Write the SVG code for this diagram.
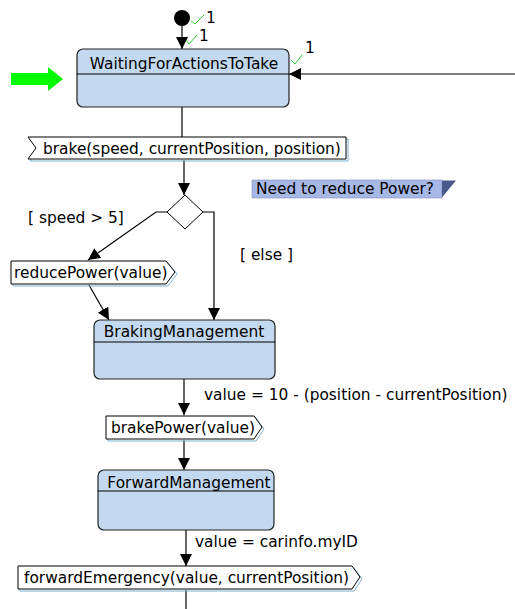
<svg xmlns="http://www.w3.org/2000/svg" width="515" height="609" viewBox="0 0 515 609">
<style>
text{font-family:"DejaVu Sans",sans-serif;font-size:15.4px;fill:#000}
.st{fill:#c3d9ef;stroke:#222;stroke-width:1.2}
.sig{fill:#fff;stroke:#000;stroke-width:1}
.sh{fill:none;stroke:#7fb0d0;stroke-width:1}
.ln{fill:none;stroke:#000;stroke-width:1.2}
.ck{fill:none;stroke:#3c3;stroke-width:1}
</style>
<defs>
<marker id="ah" viewBox="0 0 12 12" refX="12" refY="6" markerWidth="12" markerHeight="12" markerUnits="userSpaceOnUse" orient="auto">
<path d="M0,0 L12,6 L0,12 z" fill="#000"/>
</marker>
</defs>
<g id="connectors">
<line class="ln" x1="182" y1="26" x2="182" y2="49" marker-end="url(#ah)"/>
<line class="ln" x1="515" y1="74" x2="289" y2="74" marker-end="url(#ah)"/>
<line class="ln" x1="182" y1="107" x2="182" y2="137"/>
<line class="ln" x1="184" y1="160" x2="184" y2="195" marker-end="url(#ah)"/>
<polyline class="ln" points="167,212 156,212 88,260" marker-end="url(#ah)"/>
<polyline class="ln" points="203,212 214,212 214,320" marker-end="url(#ah)"/>
<line class="ln" x1="89" y1="285" x2="109" y2="320" marker-end="url(#ah)"/>
<line class="ln" x1="184" y1="379" x2="184" y2="415" marker-end="url(#ah)"/>
<line class="ln" x1="184" y1="440" x2="184" y2="470" marker-end="url(#ah)"/>
<line class="ln" x1="186" y1="530" x2="186" y2="566" marker-end="url(#ah)"/>
<line class="ln" x1="186" y1="590" x2="186" y2="609"/>
<text x="28" y="223">[ speed &gt; 5]</text>
<text x="240" y="260">[ else ]</text>
<text x="204" y="400">value = 10 - (position - currentPosition)</text>
<text x="195" y="547">value = carinfo.myID</text>
</g>
<g id="initial">
<circle cx="182" cy="18" r="8" fill="#000"/>
<polyline class="ck" points="191,21 195,24 204,15"/>
<text x="206" y="23">1</text>
<polyline class="ck" points="186,40 189,44 197,35"/>
<text x="199" y="41">1</text>
</g>
<g id="startArrow">
<polygon points="11,73 48,73 48,67 63,79 48,91 48,85 11,85" fill="#00ff00"/>
</g>
<g id="WaitingForActionsToTake">
<rect class="st" x="77" y="49" width="212" height="58" rx="6"/>
<line class="ln" x1="77" y1="74" x2="289" y2="74"/>
<text x="184" y="69" text-anchor="middle">WaitingForActionsToTake</text>
<polyline class="ck" points="291,60 295,64 302,55"/>
<text x="305" y="53">1</text>
</g>
<g id="brake">
<polygon class="sh" points="30,139 348,139 348,161 30,161 38,150"/>
<polygon class="sig" points="28,137 346,137 346,159 28,159 36,148"/>
<text x="43" y="154">brake(speed, currentPosition, position)</text>
</g>
<g id="decision">
<polygon points="185,195 203,212 185,229 167,212" fill="#fff" stroke="#000" stroke-width="1"/>
</g>
<g id="note">
<polygon points="252,180 442,180 442,198 252,198" fill="#a8b8e6" stroke="#8090c0" stroke-width="0.6"/>
<polygon points="442,180.5 456,180.5 442,197.5" fill="#4a5a8a"/>
<text x="256" y="194">Need to reduce Power?</text>
</g>
<g id="reducePower">
<polygon class="sh" points="13,263 168,263 177,274 168,286 13,286"/>
<polygon class="sig" points="11,261 166,261 175,272 166,284 11,284"/>
<text x="14" y="278">reducePower(value)</text>
</g>
<g id="BrakingManagement">
<rect class="st" x="94" y="320" width="181" height="59" rx="6"/>
<line class="ln" x1="94" y1="342" x2="275" y2="342"/>
<text x="184" y="337" text-anchor="middle">BrakingManagement</text>
</g>
<g id="brakePower">
<polygon class="sh" points="108,418 256,418 264,429 256,441 108,441"/>
<polygon class="sig" points="106,416 254,416 262,427 254,439 106,439"/>
<text x="111" y="433">brakePower(value)</text>
</g>
<g id="ForwardManagement">
<rect class="st" x="98" y="470" width="176" height="60" rx="6"/>
<line class="ln" x1="98" y1="491" x2="274" y2="491"/>
<text x="189" y="488" text-anchor="middle">ForwardManagement</text>
</g>
<g id="forwardEmergency">
<polygon class="sh" points="20,568 354,568 362,579 354,591 20,591"/>
<polygon class="sig" points="18,566 352,566 360,577 352,589 18,589"/>
<text x="24" y="583">forwardEmergency(value, currentPosition)</text>
</g>
</svg>
